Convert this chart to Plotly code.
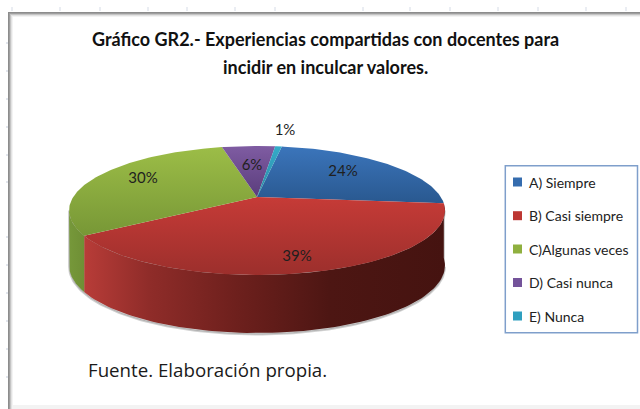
import numpy as np
import plotly.graph_objects as go

categories = ["A) Siempre", "B) Casi siempre", "C)Algunas veces", "D) Casi nunca", "E) Nunca"]
values = [24.0, 39.0, 30.7, 5.6, 0.7]
labels = ["24%", "39%", "30%", "6%", "1%"]

W, H = 640, 409
CX, CY, A, B, K = 257.0, 197.0, 183.8, 61.7, 0.209
START = 9.4
LEFTMOST = 258.0
top_scales = [["#29588f", "#3b75bb"], ["#9c2f2c", "#c63b37"], ["#779736", "#9cbd47"],
              ["#5a3d7c", "#7f5ca2"], ["#2b8aa3", "#35abc9"]]
side_scales = {1: [[0, "#b83c38"], [0.18, "#8f2c29"], [0.42, "#6e201d"], [0.68, "#4d1613"], [1, "#451310"]],
               2: [[0, "#76983a"], [1, "#6f8f35"]]}
swatches = ["#356cae", "#bd3733", "#8fb03f", "#74539a", "#2f9fbf"]
label_xy = [(343, 172), (297, 257), (143, 179), (252, 166), (285, 131)]


def project(deg):
    t = np.radians(deg)
    u, v = np.sin(t), -np.cos(t)
    s = 1 / (1 - K * v)
    return CX + A * u * s, CY + B * v * s, v


def drop(v):
    return 54 + 4 * v


fig = go.Figure()
edges = START + np.concatenate([[0], np.cumsum(values)]) * 3.6

# soft shadow round the rim
rim = np.linspace(102, LEFTMOST, 121)
rx, ry, rv = project(rim)
fig.add_trace(go.Scatter(x=np.r_[rx, rx[::-1]], y=np.r_[ry, (ry + drop(rv) + 1.5)[::-1]], mode="lines",
                         fill="toself", fillcolor="rgba(120,120,120,0.35)",
                         line=dict(color="rgba(120,120,120,0.35)", width=2), hoverinfo="skip", showlegend=False))

# side wall
for i, scale in side_scales.items():
    a0, a1 = edges[i], edges[i + 1]
    if i == 2:
        a1 = min(a1, LEFTMOST)
    t = np.linspace(a0, a1, 90)
    x, y, v = project(t)
    fig.add_trace(go.Scatter(x=np.r_[x, x[::-1]], y=np.r_[y, (y + drop(v))[::-1]], mode="lines", fill="toself",
                             fillgradient=dict(type="horizontal", colorscale=scale),
                             line=dict(width=0), hoverinfo="skip", showlegend=False))

# top face
for i, name in enumerate(categories):
    t = np.linspace(edges[i], edges[i + 1], max(int(values[i] * 4), 8))
    x, y, _ = project(t)
    fig.add_trace(go.Scatter(x=np.r_[CX, x, CX], y=np.r_[CY, y, CY], mode="lines", fill="toself",
                             fillgradient=dict(type="vertical",
                                               colorscale=[[0, top_scales[i][0]], [1, top_scales[i][1]]]),
                             line=dict(width=0), name=name, hoverinfo="skip", showlegend=False))

# percentage labels
fig.add_trace(go.Scatter(x=[p[0] for p in label_xy], y=[p[1] for p in label_xy], text=labels, mode="text",
                         textfont=dict(family="Lato", size=15, color="#1f1f1f"),
                         hoverinfo="skip", showlegend=False))

# legend
leg_y = [182, 215.7, 249, 282.5, 316]
fig.add_trace(go.Scatter(x=[517.5] * 5, y=leg_y, mode="markers",
                         marker=dict(symbol="square", size=9, color=swatches),
                         hoverinfo="skip", showlegend=False))
for name, y in zip(categories, leg_y):
    fig.add_annotation(x=527, y=y, text=name, showarrow=False, xanchor="left", yanchor="middle",
                       font=dict(family="Lato", size=14, color="#222222"))

shapes = [
    dict(type="rect", x0=505.3, x1=637.5, y0=165.7, y1=332.7, line=dict(color="#7f9fcb", width=1.5),
         fillcolor="rgba(0,0,0,0)"),
]
# window frame
shapes.append(dict(type="rect", x0=8, x1=640, y0=405, y1=409, fillcolor="#f3f3f3", line=dict(width=0)))
for off, col in [(0, "#8c8c8c"), (1, "#9e9e9e"), (2, "#c4c4c4"), (3, "#e2e2e2"), (4, "#f3f3f3")]:
    shapes.append(dict(type="line", x0=8 + off, x1=640, y0=12.5 + off, y1=12.5 + off, line=dict(color=col, width=1)))
    shapes.append(dict(type="line", x0=8.5 + off, x1=8.5 + off, y0=12 + off, y1=409, line=dict(color=col, width=1)))
for x in [12, 60, 100, 148, 187, 235, 275, 363, 410, 450, 498, 538, 586, 626]:
    shapes.append(dict(type="line", x0=x, x1=x, y0=7, y1=11, line=dict(color="#d5dbe6", width=1)))
for y in [43, 71, 99, 127, 155, 182, 237, 265, 293, 321, 349, 377]:
    shapes.append(dict(type="line", x0=6, x1=8, y0=y, y1=y, line=dict(color="#c5ccda", width=1)))

fig.add_annotation(x=325, y=39, text="Gráfico GR2.- Experiencias compartidas con docentes para", showarrow=False,
                   font=dict(family="Lato", size=18, color="#111111", weight="bold"))
fig.add_annotation(x=325, y=67, text="incidir en inculcar valores.", showarrow=False,
                   font=dict(family="Lato", size=18, color="#111111", weight="bold"))
fig.add_annotation(x=86, y=369, text="Fuente. Elaboración propia.", showarrow=False, xanchor="left",
                   font=dict(family="Open Sans", size=18.7, color="#1a1a1a"))

fig.update_layout(width=W, height=H, margin=dict(l=0, r=0, t=0, b=0), showlegend=False,
                  paper_bgcolor="white", plot_bgcolor="white", shapes=shapes,
                  xaxis=dict(range=[0, W], visible=False, fixedrange=True),
                  yaxis=dict(range=[H, 0], visible=False, fixedrange=True))
fig.write_html("out.html", config=dict(displayModeBar=False),
               post_script="document.body.style.margin='0';document.documentElement.style.overflow='hidden';")
